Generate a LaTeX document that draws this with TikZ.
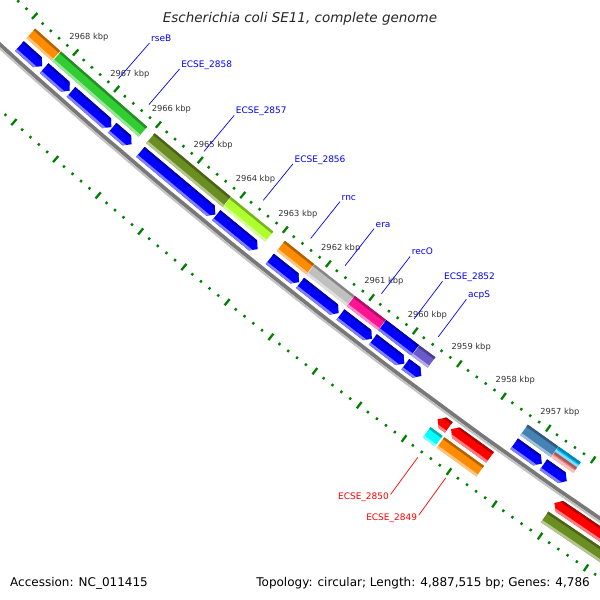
\documentclass[tikz,border=0pt]{standalone}
\usepackage{fontspec}
\setmainfont{DejaVu Sans}

\definecolor{tickgreen}{RGB}{0,128,0}
\definecolor{cdsblue}{RGB}{0,0,255}
\definecolor{geneorange}{RGB}{255,140,0}
\definecolor{limegreen}{RGB}{50,205,50}
\definecolor{olivedrab}{RGB}{107,142,35}
\definecolor{greenyellow}{RGB}{173,255,47}
\definecolor{silvergrey}{RGB}{192,192,192}
\definecolor{deeppink}{RGB}{255,20,147}
\definecolor{slateblue}{RGB}{106,90,205}
\definecolor{steelblue}{RGB}{70,130,180}
\definecolor{skyblue}{RGB}{0,191,255}
\definecolor{lightcoral}{RGB}{240,128,128}
\definecolor{aqua}{RGB}{0,255,255}
\definecolor{genered}{RGB}{255,0,0}
\definecolor{backbonegrey}{RGB}{120,120,120}
\definecolor{labelgrey}{RGB}{51,51,51}

% shading of one feature: body, dark inner rim, light outer rim
\newcommand{\featshade}[5]{%
  \fill[fill=#5] ({ang(#1+0.2)}:{#3-2}) -- ({ang(#2-0.2)}:{#3-2}) -- ({ang(#2-0.2)}:{#4+2}) -- ({ang(#1+0.2)}:{#4+2}) -- cycle;
  \fill[fill=#5!70!black] ({ang(#1+0.2)}:{#3-2}) -- ({ang(#2-0.2)}:{#3-2}) -- ({ang(#2-0.2)}:{#3+2.5}) -- ({ang(#1+0.2)}:{#3+2.5}) -- cycle;
  \fill[fill=#5!50!white] ({ang(#1+0.2)}:{#4-2.5}) -- ({ang(#2-0.2)}:{#4-2.5}) -- ({ang(#2-0.2)}:{#4+2}) -- ({ang(#1+0.2)}:{#4+2}) -- cycle;}
% plain box, from #1 to #2 kbp, radius #3 to #4
\newcommand{\boxfeat}[5]{%
  \begin{scope}
    \clip ({ang(#1)}:#3) -- ({ang(#2)}:#3) -- ({ang(#2)}:#4) -- ({ang(#1)}:#4) -- cycle;
    \featshade{#1}{#2}{#3}{#4}{#5}
  \end{scope}}
% arrow with its head at #2 (reverse strand)
\newcommand{\revarrow}[5]{%
  \begin{scope}
    \clip ({ang(#1)}:#3) -- ({ang(#2+0.11)}:#3) -- ({ang(#2)}:{(#3+#4)/2}) -- ({ang(#2+0.11)}:#4) -- ({ang(#1)}:#4) -- cycle;
    \featshade{#1}{#2}{#3}{#4}{#5}
  \end{scope}}
% arrow with its head at #1 (forward strand)
\newcommand{\fwdarrow}[5]{%
  \begin{scope}
    \clip ({ang(#1)}:{(#3+#4)/2}) -- ({ang(#1-0.11)}:#3) -- ({ang(#2)}:#3) -- ({ang(#2)}:#4) -- ({ang(#1-0.11)}:#4) -- cycle;
    \featshade{#1}{#2}{#3}{#4}{#5}
  \end{scope}}

\begin{document}
\begin{tikzpicture}[
        x=1pt, y=-1pt,
        declare function={ang(\p)=125.37+(\p-2957)*0.5645;},
        majortick/.style={tickgreen, line width=2.3pt},
        minortick/.style={tickgreen, line width=2.3pt},
        backbone/.style={backbonegrey, line width=3.8pt},
        backshadow/.style={backbonegrey!45, line width=2pt},
        ticklabel/.style={font=\fontsize{8.3}{10}\selectfont, text=labelgrey, inner sep=0pt},
        genelabel/.style={font=\fontsize{9}{11}\selectfont, text=cdsblue, inner sep=0pt, anchor=base west, xshift=1.5pt, yshift=1.5pt},
        redlabel/.style={font=\fontsize{9}{11}\selectfont, text=genered, inner sep=0pt, anchor=base east, xshift=-1.5pt, yshift=-5.5pt},
        bleader/.style={cdsblue, line width=0.7pt},
        rleader/.style={genered, line width=0.7pt},
        titletext/.style={font=\fontsize{13.5}{16}\selectfont\itshape, text=black!85, inner sep=0pt},
        footertext/.style={font=\fontsize{12}{14}\selectfont, text=black, inner sep=0pt}
    ]

    \useasboundingbox (0,0) rectangle (600,600);
    \fill[white] (0,0) rectangle (600,600);

    \begin{scope}
    \clip (0,0) rectangle (600,600);
    % --- Map arc (centre of the circle far up right) ---
    \begin{scope}[shift={(3774,-4116)}]

        % Tick rings
        \foreach \k in {2954,...,2970} {
            \draw[majortick] ({ang(\k)}:5569) -- ({ang(\k)}:5577);
            \draw[majortick] ({ang(\k)}:5662) -- ({ang(\k)}:5670);
        }
        \foreach \k in {2954,...,2969}
            \foreach \f in {0.2,0.4,0.6,0.8} {
                \draw[minortick] ({ang(\k+\f)}:5572) -- ({ang(\k+\f)}:5574.5);
                \draw[minortick] ({ang(\k+\f)}:5665) -- ({ang(\k+\f)}:5667.5);
            }
        \foreach \k in {2957,...,2968}
            \node[ticklabel] (kbp\k) at ({ang(\k)}:5553) {\k\ kbp};

        % Backbone
        \draw[backbone] plot[domain=2953.5:2970.5, samples=45] ({ang(\x)}:5617.5);
        \draw[backshadow] plot[domain=2953.5:2970.5, samples=45] ({ang(\x)}:5620.5);

        % Inner coloured track
        \foreach \a/\b/\col in {2968.84/2968.23/geneorange, 2968.21/2966.13/limegreen,
                2965.95/2964.15/olivedrab, 2964.14/2963.15/greenyellow,
                2962.88/2962.20/geneorange, 2962.19/2961.27/silvergrey,
                2961.26/2960.55/deeppink, 2960.54/2959.79/cdsblue,
                2959.78/2959.42/slateblue, 2957.34/2956.66/steelblue} {
            \boxfeat{\a}{\b}{5582}{5595}{\col}
        }
        \boxfeat{2956.65}{2956.16}{5582}{5588.5}{skyblue}
        \boxfeat{2956.65}{2956.16}{5588.5}{5595}{lightcoral}

        % Reverse strand CDS
        \foreach \a/\b in {2968.84/2968.29, 2968.24/2967.62, 2967.59/2966.62,
                2966.60/2966.14, 2965.93/2964.16, 2964.14/2963.17,
                2962.89/2962.21, 2962.19/2961.30, 2961.26/2960.54,
                2960.52/2959.80, 2959.78/2959.42, 2957.34/2956.72,
                2956.69/2956.17} {
            \revarrow{\a}{\b}{5599}{5612}{cdsblue}
        }

        % Forward strand CDS and outer track
        \foreach \a/\b in {2958.72/2958.47, 2958.42/2957.55, 2956.13/2953.5} {
            \fwdarrow{\a}{\b}{5624}{5637}{genered}
        }
        \foreach \a/\b/\col in {2958.74/2958.47/aqua, 2958.43/2957.55/geneorange,
                2956.13/2953.5/olivedrab} {
            \boxfeat{\a}{\b}{5641}{5654}{\col}
        }

        % Gene labels
        \foreach \p/\name/\txt in {2967.10/rseB/rseB, 2966.37/ecse2858/ECSE\_2858,
                2965.05/ecse2857/ECSE\_2857, 2963.65/ecse2856/ECSE\_2856,
                2962.54/rnc/rnc, 2961.74/era/era, 2960.90/recO/recO,
                2960.15/ecse2852/ECSE\_2852, 2959.60/acpS/acpS} {
            \coordinate (\name-foot) at ({ang(\p)}:5517);
            \coordinate (\name-tip) at ({ang(\p)}:5564);
            \draw[bleader] (\name-foot) -- (\name-tip);
            \node[genelabel] (\name) at (\name-foot) {\txt};
        }
        \foreach \p/\name/\txt in {2958.60/ecse2850/ECSE\_2850, 2957.98/ecse2849/ECSE\_2849} {
            \coordinate (\name-tip) at ({ang(\p)}:5673);
            \coordinate (\name-foot) at ({ang(\p)}:5719);
            \draw[rleader] (\name-tip) -- (\name-foot);
            \node[redlabel] (\name) at (\name-foot) {\txt};
        }
    \end{scope}
    \end{scope}

    % --- Title and footer ---
    \node[titletext, anchor=base] (title) at (300,22) {Escherichia coli SE11, complete genome};
    \node[footertext, anchor=base west] (accession) at (10,586) {Accession: NC\_011415};
    \node[footertext, anchor=base east] (topology) at (590,586) {Topology: circular; Length: 4,887,515 bp; Genes: 4,786};

\end{tikzpicture}
\end{document}
